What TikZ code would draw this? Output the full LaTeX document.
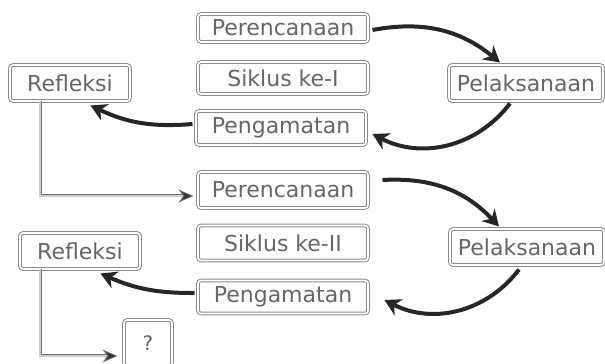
\documentclass[tikz,border=0pt]{standalone}
\usepackage{fontspec}
\setmainfont{DejaVu Sans}
\usetikzlibrary{positioning, arrows.meta}

\begin{document}
\begin{tikzpicture}[
    x=1pt, y=1pt,
    font=\fontsize{22}{24}\selectfont,
    box/.style={draw=black!45, line width=1pt, double=white, double distance=1.6pt, rounded corners=3pt,
                text=black!60, inner sep=1pt, minimum height=30pt},
    midbox/.style={box, minimum width=170pt},
    sidebox/.style={box, minimum width=154pt, minimum height=36pt},
    refbox/.style={box, minimum width=120pt, minimum height=36pt},
    curve/.style={-{Stealth[length=16pt,width=18pt]}, line width=4pt, black!85},
    link/.style={-{Stealth[length=15pt,width=13pt,fill=black!80]}, draw=black!55, line width=0.9pt,
                 double=black!20, double distance=1.2pt},
]
\useasboundingbox (0,0) rectangle (605,364);

% ---- Siklus I ----------------------------------------------------------------
\node[midbox, minimum height=28pt] (ren1) at (283,336) {Perencanaan};
\node[midbox, minimum height=32pt] (sik1) at (283,286) {Siklus ke-I};
\node[midbox, minimum height=34pt] (ang1) at (281,236) {Pengamatan};
\node[sidebox] (pel1) at (526,281) {Pelaksanaan};
\node[refbox]  (ref1) at (70,281)  {Refleksi};

% ---- Siklus II ---------------------------------------------------------------
\node[midbox, minimum height=36pt] (ren2) at (283,174) {Perencanaan};
\node[midbox, minimum height=35pt] (sik2) at (283,121) {Siklus ke-II};
\node[midbox, minimum height=33pt] (ang2) at (283,67)  {Pengamatan};
\node[sidebox] (pel2) at (527,117) {Pelaksanaan};
\node[refbox]  (ref2) at (80,113)  {Refleksi};
\node[box, minimum width=48pt, minimum height=46pt, font=\fontsize{20}{22}\selectfont] (next) at (148,21) {?};

% ---- Arrows ------------------------------------------------------------------
\draw[curve] ([xshift=4pt,yshift=-2pt]ren1.east) to[bend left=25] ([xshift=-26pt,yshift=2pt]pel1.north);
\draw[curve] ([xshift=-16pt,yshift=-2pt]pel1.south) to[bend left=40] ([xshift=6pt,yshift=-6pt]ang1.east);
\draw[curve] ([xshift=-3pt,yshift=4pt]ang1.west) to[bend left=15] ([xshift=-40pt,yshift=-4pt]ref1.south east);
\draw[link]  ([xshift=-30pt]ref1.south) |- ([xshift=-4pt,yshift=-6pt]ren2.west);

\draw[curve] ([xshift=14pt,yshift=10pt]ren2.east) to[bend left=25] ([xshift=-28pt,yshift=2pt]pel2.north);
\draw[curve] ([xshift=-8pt,yshift=-4pt]pel2.south) to[bend left=40] ([xshift=16pt,yshift=-3pt]ang2.east);
\draw[curve] ([xshift=-3pt,yshift=4pt]ang2.west) to[bend left=12] ([xshift=-40pt,yshift=-4pt]ref2.south east);
\draw[link]  ([xshift=-40pt]ref2.south) |- ([xshift=-6pt,yshift=-13pt]next.west);

\end{tikzpicture}
\end{document}
